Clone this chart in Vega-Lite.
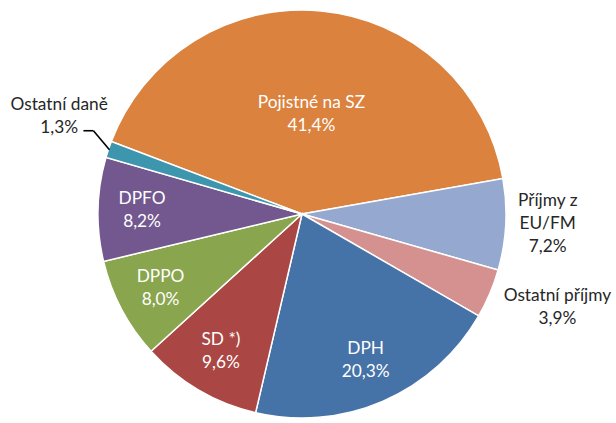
{
  "$schema": "https://vega.github.io/schema/vega-lite/v6.json",
  "width": 604,
  "height": 428,
  "autosize": {"type": "none"},
  "padding": {"left": 0, "top": 0, "right": 12, "bottom": 0},
  "background": "white",
  "config": {"view": {"stroke": null}, "text": {"font": "Lato", "fontSize": 17.3, "lineHeight": 23}},
  "data": {
    "values": [
      {"i": 1, "name": "Pojistné na SZ", "v": 41.4},
      {"i": 2, "name": "Příjmy z EU/FM", "v": 7.2},
      {"i": 3, "name": "Ostatní příjmy", "v": 3.9},
      {"i": 4, "name": "DPH", "v": 20.3},
      {"i": 5, "name": "SD *)", "v": 9.6},
      {"i": 6, "name": "DPPO", "v": 8.0},
      {"i": 7, "name": "DPFO", "v": 8.2},
      {"i": 8, "name": "Ostatní daně", "v": 1.3}
    ]
  },
  "transform": [
    {"stack": "v", "groupby": [], "sort": [{"field": "i", "order": "ascending"}], "offset": "normalize", "as": ["t0", "t1"]},
    {"calculate": "(datum.t0 + datum.t1) / 2", "as": "mid"},
    {"calculate": "(datum.name === 'Příjmy z EU/FM' ? 'Příjmy z\\nEU/FM' : datum.name) + '\\n' + replace(format(datum.v, '.1f'), '.', ',') + '%'", "as": "lbl"}
  ],
  "layer": [
    {
      "mark": {"type": "arc", "radius": 204, "stroke": "white", "strokeWidth": 1.5},
      "encoding": {
        "theta": {"field": "t0", "type": "quantitative", "scale": {"domain": [0, 1], "range": [-1.2078, 5.0754]}},
        "theta2": {"field": "t1"},
        "color": {
          "field": "name", "type": "nominal", "legend": null,
          "scale": {
            "domain": ["Pojistné na SZ", "Příjmy z EU/FM", "Ostatní příjmy", "DPH", "SD *)", "DPPO", "DPFO", "Ostatní daně"],
            "range": ["#DA823E", "#95A8D0", "#D59190", "#4572A7", "#AA4643", "#89A54E", "#72588F", "#3D96AE"]
          }
        }
      }
    },
    {
      "transform": [{"filter": "indexof(['DPH', 'SD *)', 'DPPO', 'DPFO'], datum.name) >= 0"}],
      "mark": {"type": "text", "radius": 160, "dy": -11.5, "color": "white", "lineBreak": "\n", "align": "center", "baseline": "middle"},
      "encoding": {
        "theta": {"field": "mid", "type": "quantitative", "scale": {"domain": [0, 1], "range": [-1.2078, 5.0754]}},
        "text": {"field": "lbl"}
      }
    },
    {
      "transform": [{"filter": "datum.name === 'Pojistné na SZ'"}],
      "mark": {"type": "text", "radius": 100, "dy": -11.5, "color": "white", "lineBreak": "\n", "align": "center", "baseline": "middle"},
      "encoding": {
        "theta": {"field": "mid", "type": "quantitative", "scale": {"domain": [0, 1], "range": [-1.2078, 5.0754]}},
        "text": {"field": "lbl"}
      }
    },
    {
      "transform": [{"filter": "datum.name === 'Ostatní daně'"}],
      "mark": {"type": "text", "radius": 255, "dx": -1, "dy": -28, "color": "#262626", "lineBreak": "\n", "align": "center", "baseline": "middle"},
      "encoding": {
        "theta": {"field": "mid", "type": "quantitative", "scale": {"domain": [0, 1], "range": [-1.2078, 5.0754]}},
        "text": {"field": "lbl"}
      }
    },
    {
      "transform": [{"filter": "datum.name === 'Příjmy z EU/FM'"}],
      "mark": {"type": "text", "radius": 245, "dx": 1, "dy": -26, "color": "#262626", "lineBreak": "\n", "align": "center", "baseline": "middle"},
      "encoding": {
        "theta": {"field": "mid", "type": "quantitative", "scale": {"domain": [0, 1], "range": [-1.2078, 5.0754]}},
        "text": {"field": "lbl"}
      }
    },
    {
      "transform": [{"filter": "datum.name === 'Ostatní příjmy'"}],
      "mark": {"type": "text", "radius": 260, "dx": 16, "dy": -19, "color": "#262626", "lineBreak": "\n", "align": "center", "baseline": "middle"},
      "encoding": {
        "theta": {"field": "mid", "type": "quantitative", "scale": {"domain": [0, 1], "range": [-1.2078, 5.0754]}},
        "text": {"field": "lbl"}
      }
    },
    {
      "transform": [
        {"filter": "datum.name === 'Ostatní daně'"},
        {"calculate": "-1.2078 + 2 * PI * datum.mid", "as": "a"},
        {"calculate": "203 * sin(datum.a)", "as": "x1"},
        {"calculate": "203 * cos(datum.a)", "as": "y1"},
        {"calculate": "datum.x1 - 16", "as": "xe"},
        {"calculate": "datum.y1 + 19", "as": "ye"},
        {"calculate": "datum.xe - 10", "as": "x3"}
      ],
      "layer": [
        {
          "mark": {"type": "rule", "color": "black", "strokeWidth": 1.6},
          "encoding": {
            "x": {"field": "x1", "type": "quantitative", "scale": {"domain": [-302, 302], "nice": false, "zero": false}, "axis": null},
            "y": {"field": "y1", "type": "quantitative", "scale": {"domain": [-214, 214], "nice": false, "zero": false}, "axis": null},
            "x2": {"field": "xe"},
            "y2": {"field": "ye"}
          }
        },
        {
          "mark": {"type": "rule", "color": "black", "strokeWidth": 1.6},
          "encoding": {
            "x": {"field": "xe", "type": "quantitative", "scale": {"domain": [-302, 302], "nice": false, "zero": false}, "axis": null},
            "y": {"field": "ye", "type": "quantitative", "scale": {"domain": [-214, 214], "nice": false, "zero": false}, "axis": null},
            "x2": {"field": "x3"},
            "y2": {"field": "ye"}
          }
        }
      ]
    }
  ]
}
